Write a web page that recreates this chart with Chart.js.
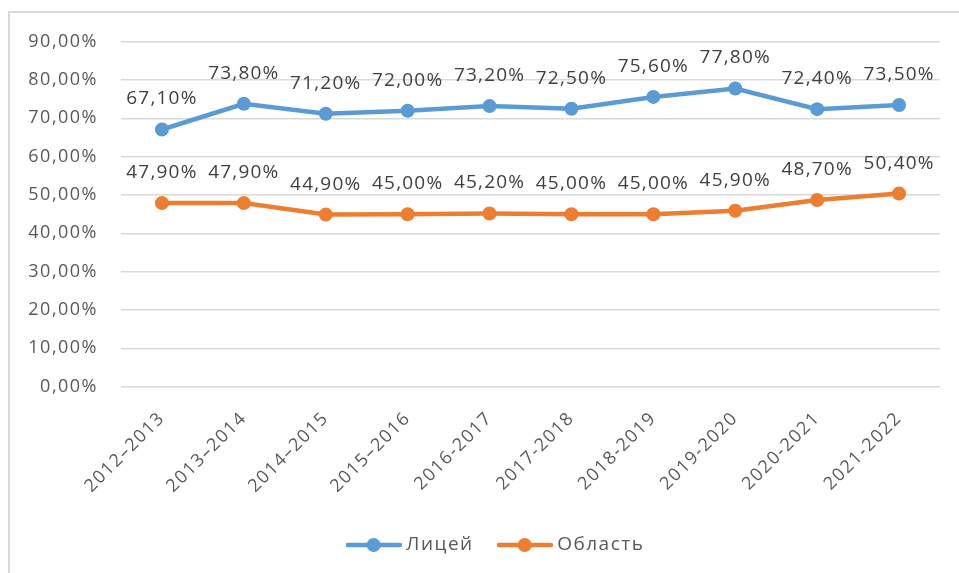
<!DOCTYPE html>
<html><head><meta charset="utf-8">
<script src="https://cdn.jsdelivr.net/npm/chart.js@4"></script>
<style>html,body{margin:0;padding:0;background:#fff;}canvas{display:block}</style>
</head><body>
<canvas id="c" width="959" height="573"></canvas>
<script>
const categories = ['2012–2013','2013–2014','2014–2015','2015–2016','2016-2017','2017-2018','2018-2019','2019-2020','2020-2021','2021-2022'];
const liceumValues = [67.1, 73.8, 71.2, 72.0, 73.2, 72.5, 75.6, 77.8, 72.4, 73.5];
const oblastValues = [47.9, 47.9, 44.9, 45.0, 45.2, 45.0, 45.0, 45.9, 48.7, 50.4];
const seriesNames = ['Лицей', 'Область'];
const seriesColors = ['#5B9BD5', '#ED7D31'];
const yMin = 0, yMax = 90, yStep = 10;

const FONT = '"Open Sans", "Liberation Sans", sans-serif';
const fmt = v => v.toFixed(2).replace('.', ',') + '%';

function legendImage(color) {
  const c = document.createElement('canvas');
  c.width = 56; c.height = 16;
  const g = c.getContext('2d');
  g.strokeStyle = color; g.lineWidth = 4.5; g.lineCap = 'round';
  g.beginPath(); g.moveTo(2, 8); g.lineTo(54, 8); g.stroke();
  g.fillStyle = color;
  g.beginPath(); g.arc(28, 8, 7, 0, Math.PI * 2); g.fill();
  return c;
}
const legendImgs = seriesColors.map(legendImage);

const spacingPlugin = {
  id: 'spacing',
  beforeLayout(chart) { chart.ctx.letterSpacing = '1.5px'; },
  afterLayout(chart) {
    if (chart.legend) { chart.legend.left += 17.5; chart.legend.right += 17.5; }
  },
  beforeDraw(chart) {
    const ctx = chart.ctx;
    ctx.letterSpacing = '1.5px';
    ctx.save();
    ctx.strokeStyle = '#d9d9d9';
    ctx.lineWidth = 2;
    ctx.beginPath();
    ctx.moveTo(9, 573); ctx.lineTo(9, 12); ctx.lineTo(959, 12);
    ctx.stroke();
    ctx.restore();
  }
};

const valueLabels = {
  id: 'valueLabels',
  afterDatasetsDraw(chart) {
    const ctx = chart.ctx;
    ctx.save();
    ctx.font = '19px ' + FONT;
    ctx.fillStyle = '#404040';
    ctx.textAlign = 'center';
    ctx.textBaseline = 'alphabetic';
    ctx.letterSpacing = '1.2px';
    chart.data.datasets.forEach((ds, i) => {
      chart.getDatasetMeta(i).data.forEach((pt, j) => {
        ctx.fillText(fmt(ds.data[j]), pt.x, pt.y - 25);
      });
    });
    ctx.restore();
  }
};

new Chart(document.getElementById('c'), {
  type: 'line',
  data: {
    labels: categories,
    datasets: [liceumValues, oblastValues].map((vals, i) => ({
      label: seriesNames[i],
      data: vals,
      borderColor: seriesColors[i],
      backgroundColor: seriesColors[i],
      borderWidth: 4.5,
      pointRadius: 7,
      pointHoverRadius: 7,
      pointBorderWidth: 0,
      pointBackgroundColor: seriesColors[i],
      tension: 0,
      fill: false
    }))
  },
  options: {
    responsive: false,
    animation: false,
    devicePixelRatio: 1,
    layout: { padding: { left: 20, right: 19, top: 41.7, bottom: 8.5 } },
    plugins: {
      tooltip: { enabled: false },
      legend: {
        position: 'bottom',
        labels: {
          usePointStyle: true,
          pointStyleWidth: 46,
          padding: 28,
          color: '#595959',
          font: { family: FONT, size: 19 },
          generateLabels(chart) {
            const items = Chart.defaults.plugins.legend.labels.generateLabels(chart);
            items.forEach((it, i) => { it.pointStyle = legendImgs[i]; });
            return items;
          }
        }
      }
    },
    scales: {
      x: {
        offset: true,
        grid: { display: false },
        border: { display: false },
        ticks: {
          autoSkip: false, minRotation: 45, maxRotation: 45, padding: 13,
          color: '#595959', font: { family: FONT, size: 18 }
        },
        afterFit(scale) { scale.height = 120.8; }
      },
      y: {
        min: yMin, max: yMax,
        grid: { color: '#d9d9d9', lineWidth: 1.5, drawTicks: false },
        border: { display: false },
        ticks: {
          stepSize: yStep, padding: 23,
          color: '#595959', font: { family: FONT, size: 18 },
          callback: v => fmt(v)
        },
        afterFit(scale) { scale.width = 101; }
      }
    }
  },
  plugins: [spacingPlugin, valueLabels]
});
</script>
</body></html>
